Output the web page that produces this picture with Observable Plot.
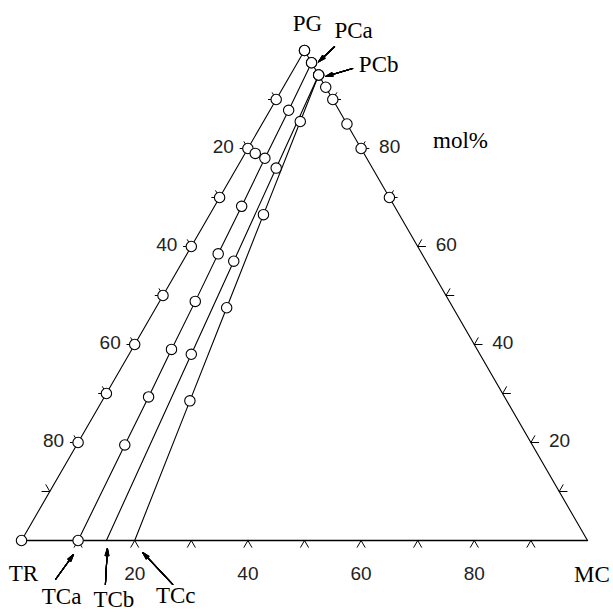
<!DOCTYPE html>
<html>
<head>
<meta charset="utf-8">
<script src="https://cdn.jsdelivr.net/npm/d3@7"></script>
<script src="https://cdn.jsdelivr.net/npm/@observablehq/plot@0.6"></script>
<style>
  html, body { margin: 0; padding: 0; background: #fff; }
  #chart { width: 613px; height: 612px; }
</style>
</head>
<body>
<div id="chart"></div>
<script>
// ---- Data (mol% compositions: PG, MC; TR = 100 - PG - MC) ----
// Left edge: PG – TR binary
const leftPG = [100, 90, 80, 70, 60, 50, 40, 30, 20, 0];
const leftMC = [0, 0, 0, 0, 0, 0, 0, 0, 0, 0];
const leftMarked = [1, 1, 1, 1, 1, 1, 1, 1, 1, 1];
// Right edge: PG – MC binary
const rightPG = [100, 97.5, 95, 92.5, 90, 85, 80, 70, 0];
const rightMC = [0, 2.5, 5, 7.5, 10, 15, 20, 30, 100];
const rightMarked = [1, 1, 1, 1, 1, 1, 1, 1, 0];
// PCa – TCa join
const lineAPG = [97.5, 87.8, 78, 68.2, 58.5, 48.8, 39, 29.3, 19.5, 0];
const lineAMC = [2.5, 3.3, 4, 4.8, 5.5, 6.3, 7, 7.8, 8.5, 10];
const lineAMarked = [1, 1, 1, 1, 1, 1, 1, 1, 1, 1];
// PCb – TCb join
const lineBPG = [95, 76, 57, 38, 0];
const lineBMC = [5, 7, 9, 11, 15];
const lineBMarked = [1, 1, 1, 1, 0];
// PCb – TCc join
const lineCPG = [95, 85.5, 66.5, 47.5, 28.5, 0];
const lineCMC = [5, 6.5, 9.5, 12.5, 15.5, 20];
const lineCMarked = [1, 1, 1, 1, 1, 0];
// Extra isolated point
const extraPG = [79];
const extraMC = [1.8];

// Named compositions
const pointNames = ["PG", "PCa", "PCb", "TR", "TCa", "TCb", "TCc", "MC"];
const pointPG = [100, 97.5, 95, 0, 0, 0, 0, 0];
const pointMC = [0, 2.5, 5, 0, 10, 15, 20, 100];
const arrowTargets = ["PCa", "PCb", "TCa", "TCb", "TCc"];

// Tick values / labels
const tickValues = [10, 20, 30, 40, 50, 60, 70, 80, 90];
const tickLabels = [20, 40, 60, 80];
const unitLabel = "mol%";

// ---- Styling (pixel offsets) ----
const labelOffsets = {
  PG: [3, -27], PCa: [42, -32], PCb: [60, -10], TR: [2, 33],
  TCa: [-16.5, 56], TCb: [7.5, 59], TCc: [41, 55], MC: [4.5, 34]
};
// [tail dx, tail dy, tip dx, tip dy] in px relative to target
const arrowOffsets = {
  PCa: [23, -16, 7, -1],
  PCb: [34, -6.5, 7, 1.5],
  TCa: [-22.6, 39, -4.6, 14],
  TCb: [-1, 44, 1, 8],
  TCc: [38, 44, 8, 12]
};

// ---- Helpers ----
const S3 = Math.sqrt(3) / 2;
const tx = d => d.MC + d.PG / 2;
const ty = d => d.PG * S3;
const pxPerUnit = 566 / 100;

function rows(series, PG, MC, marked) {
  return PG.map((p, i) => ({series, PG: p, MC: MC[i], marked: marked ? marked[i] : 1}));
}
const seriesRows = [
  ...rows("left", leftPG, leftMC, leftMarked),
  ...rows("right", rightPG, rightMC, rightMarked),
  ...rows("A", lineAPG, lineAMC, lineAMarked),
  ...rows("B", lineBPG, lineBMC, lineBMarked),
  ...rows("C", lineCPG, lineCMC, lineCMarked)
];
const markerRows = [...seriesRows.filter(d => d.marked), ...rows("extra", extraPG, extraMC)];
const points = pointNames.map((n, i) => ({name: n, PG: pointPG[i], MC: pointMC[i]}));
const pointByName = Object.fromEntries(points.map(p => [p.name, p]));

const baseRows = [pointByName.TR, pointByName.MC];

// tick stubs (grid-line directions, outward)
const L = 1.45;
const stubs = [];
for (const t of tickValues) {
  const b = {x: t, y: 0};
  stubs.push({x1: b.x, y1: b.y, x2: b.x - L / 2, y2: -L * S3});
  stubs.push({x1: b.x, y1: b.y, x2: b.x + L / 2, y2: -L * S3});
  const r = {x: 100 - t / 2, y: t * S3};
  stubs.push({x1: r.x, y1: r.y, x2: r.x + L, y2: r.y});
  stubs.push({x1: r.x, y1: r.y, x2: r.x + L / 2, y2: r.y + L * S3});
  const l = {x: t / 2, y: t * S3};
  stubs.push({x1: l.x, y1: l.y, x2: l.x - L, y2: l.y});
  stubs.push({x1: l.x, y1: l.y, x2: l.x - L / 2, y2: l.y + L * S3});
}

const bottomLabels = tickLabels.map(v => ({PG: 0, MC: v, text: String(v)}));
const leftLabels = tickLabels.map(v => ({PG: 100 - v, MC: 0, text: String(v)}));
const rightLabels = tickLabels.map(v => ({PG: v, MC: 100 - v, text: String(v)}));

const arrows = arrowTargets.map(n => {
  const p = pointByName[n], o = arrowOffsets[n];
  const x0 = tx(p), y0 = ty(p);
  return {
    x1: x0 + o[0] / pxPerUnit, y1: y0 - o[1] / pxPerUnit,
    x2: x0 + o[2] / pxPerUnit, y2: y0 - o[3] / pxPerUnit
  };
});

const serif = "'Liberation Serif', 'Times New Roman', serif";
const sans = "'Liberation Sans', Arial, sans-serif";

const arrowMarks = [4, 8, 12, 16, 20, 24, 28, 32].map(a =>
  Plot.arrow(arrows, {x1: "x1", y1: "y1", x2: "x2", y2: "y2",
    stroke: "black", strokeWidth: 1.1, headAngle: a, headLength: 10, bend: 0})
);

const chart = Plot.plot({
  width: 613,
  height: 612,
  marginLeft: 21,
  marginRight: 26,
  marginTop: 50,
  marginBottom: 72,
  x: {domain: [0, 100], axis: null},
  y: {domain: [0, 100 * S3], axis: null},
  style: {background: "white", overflow: "visible"},
  marks: [
    Plot.link(stubs, {x1: "x1", y1: "y1", x2: "x2", y2: "y2", stroke: "black", strokeWidth: 1}),
    Plot.line(baseRows, {x: tx, y: ty, stroke: "black", strokeWidth: 1.3}),
    Plot.line(seriesRows, {x: tx, y: ty, z: "series", stroke: "black", strokeWidth: 1.1}),
    Plot.dot(markerRows, {x: tx, y: ty, r: 5.2, fill: "white", stroke: "black", strokeWidth: 1.1}),
    ...arrowMarks,
    Plot.text(bottomLabels, {x: tx, y: ty, text: "text", dy: 33, fontSize: 19, fontFamily: sans, fill: "#222"}),
    Plot.text(leftLabels, {x: tx, y: ty, text: "text", dx: -14, dy: -2, textAnchor: "end", fontSize: 19, fontFamily: sans, fill: "#222"}),
    Plot.text(rightLabels, {x: tx, y: ty, text: "text", dx: 18, dy: -2, textAnchor: "start", fontSize: 19, fontFamily: sans, fill: "#222"}),
    ...points.map(p => Plot.text([p], {x: tx, y: ty, text: "name",
      dx: labelOffsets[p.name][0], dy: labelOffsets[p.name][1],
      fontSize: 23, fontFamily: serif, fill: "black"})),
    Plot.text([pointByName.PG], {x: tx, y: ty, text: () => unitLabel, dx: 156, dy: 90,
      fontSize: 23, fontFamily: serif, fill: "black"})
  ]
});
document.getElementById("chart").appendChild(chart);
</script>
</body>
</html>
